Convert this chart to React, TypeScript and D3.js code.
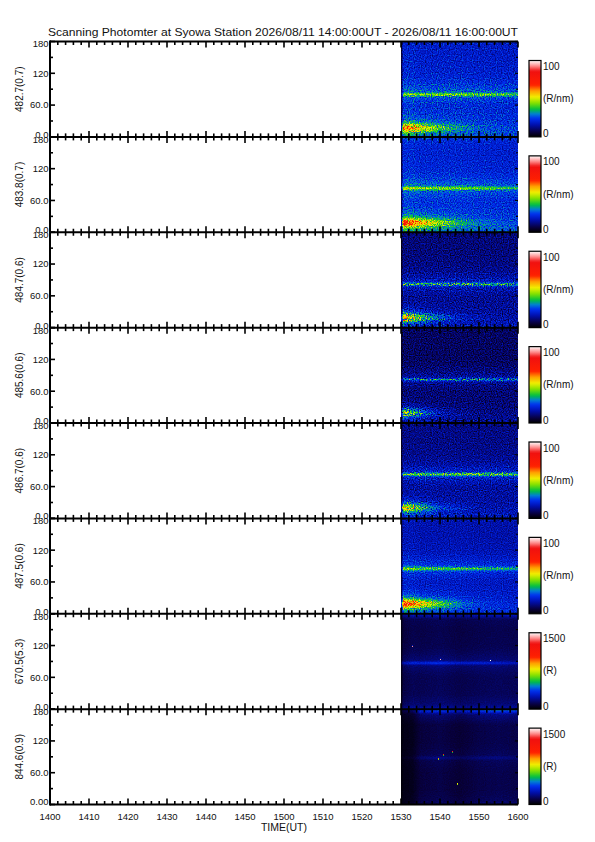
import React, { useMemo } from "react";
import * as d3 from "d3";

// ---------- labels / ticks ----------
const titleText =
  "Scanning Photomter at Syowa Station 2026/08/11 14:00:00UT - 2026/08/11 16:00:00UT";
const panelLabels = [
  "482.7(0.7)",
  "483.8(0.7)",
  "484.7(0.6)",
  "485.6(0.6)",
  "486.7(0.6)",
  "487.5(0.6)",
  "670.5(5.3)",
  "844.6(0.9)",
];
const scaleMax = [100, 100, 100, 100, 100, 100, 1500, 1500];
const scaleUnits = ["(R/nm)", "(R/nm)", "(R/nm)", "(R/nm)", "(R/nm)", "(R/nm)", "(R)", "(R)"];
const xTickMinutes = [0, 10, 20, 30, 40, 50, 60, 70, 80, 90, 100, 110, 120];
const xTickLabels = ["1400", "1410", "1420", "1430", "1440", "1450", "1500", "1510", "1520", "1530", "1540", "1550", "1600"];
const yTickValues = [0, 60, 120, 180];
const yTickLabels = ["0.0", "60.0", "120", "180"];
const yTickLabelsLast = ["0.00", "60.0", "120", "180"];
const xAxisTitle = "TIME(UT)";

// ---------- data (minutes after 14:00 UT, elevation deg) ----------
const dataStart = 90; // 15:30 UT
const dataEnd = 120; // 16:00 UT

// background level vs elevation
const bgElev = [0, 10, 30, 60, 90, 120, 150, 170, 180];
const bgLevel = [
  [26, 25, 23, 21, 23, 20, 19, 19, 20],
  [28, 27, 24, 22, 24, 21, 20, 21, 25],
  [17, 16, 14, 13, 14, 12, 11, 11, 12],
  [14, 13, 11, 10, 11, 9, 9, 9, 10],
  [18, 17, 15, 14, 15, 13, 12, 12, 13],
  [23, 22, 20, 18, 20, 17, 16, 16, 18],
  [230, 160, 125, 120, 135, 115, 110, 125, 290],
  [150, 120, 105, 105, 115, 105, 105, 170, 450],
];

// thin emission band near 80-88 deg
const midElev = [80, 83, 82, 82, 83, 85, 87, 88];
const midTimes = [90, 100, 110, 120];
const midAmp = [
  [17, 18, 18, 16],
  [20, 18, 16, 13],
  [18, 18, 18, 16],
  [14, 15, 15, 14],
  [21, 22, 22, 20],
  [20, 18, 16, 14],
  [140, 160, 130, 90],
  [50, 60, 50, 40],
];

// low-elevation band that fades after 15:30
const lowElev = [17, 18, 19, 19, 20, 19, 5, 5];
const lowTimes = [90, 92, 94, 96, 98, 100, 103, 106, 110, 115, 120];
const lowAmp = [
  [28, 27, 24, 20, 16, 12, 8, 5, 2, 1, 0],
  [35, 31, 27, 23, 19, 15, 10, 6, 3, 1, 0],
  [36, 29, 22, 16, 12, 8, 5, 2, 1, 0, 0],
  [28, 22, 16, 11, 7, 4, 2, 1, 0, 0, 0],
  [32, 26, 20, 14, 10, 6, 4, 2, 0, 0, 0],
  [40, 35, 30, 25, 20, 15, 10, 5, 2, 1, 0],
  [0, 0, 0, 0, 0, 0, 0, 0, 0, 0, 0],
  [0, 0, 0, 0, 0, 0, 0, 0, 0, 0, 0],
];

// per-time brightness factor (vertical striping / first dark column)
const modTimes = [90, 90.6, 93, 95, 100, 105, 110, 115, 120];
const timeMod = [
  [0.1, 1.05, 1.05, 1.0, 1.0, 1.0, 0.98, 0.97, 0.95],
  [0.1, 1.05, 1.05, 1.0, 1.0, 1.0, 0.98, 0.97, 0.95],
  [0.1, 1.0, 1.0, 1.0, 1.0, 1.0, 1.0, 1.0, 1.0],
  [0.1, 1.0, 1.0, 1.0, 1.0, 1.0, 1.0, 1.0, 1.0],
  [0.1, 1.0, 1.0, 1.0, 1.0, 1.0, 1.0, 1.0, 1.0],
  [0.1, 1.05, 1.05, 1.0, 1.0, 1.0, 0.98, 0.97, 0.95],
  [0.1, 0.8, 1.0, 0.95, 1.05, 0.9, 1.0, 1.05, 1.0],
  [0.1, 0.3, 0.4, 0.85, 1.0, 0.75, 1.0, 1.1, 1.0],
];

// isolated bright pixels [panel, minute, elevation]
const spots = [
  [7, 100.8, 93],
  [7, 103.3, 99],
  [7, 99.7, 86],
  [7, 104.5, 39],
  [6, 93, 119],
  [6, 100, 94],
  [6, 113, 92],
];

// colour table (fraction of scale -> colour)
const cmapStops = [0, 0.06, 0.16, 0.24, 0.3, 0.36, 0.44, 0.52, 0.6, 0.68, 0.86, 0.93, 1];
const cmapColors = [
  "#000000",
  "#08003c",
  "#0010b0",
  "#0030f0",
  "#0080d0",
  "#00c040",
  "#80e000",
  "#f0f000",
  "#ffa000",
  "#ff2000",
  "#f01010",
  "#ff9090",
  "#ffffff",
];

// ---------- layout / style ----------
const W = 595;
const H = 842;
const PLOT_L = 50;
const PLOT_R = 518;
const TOP = 41.5;
const BOTTOM = 804.5;
const NP = panelLabels.length;
const PH = (BOTTOM - TOP) / NP;
const FONT = "'Liberation Sans', Arial, sans-serif";
const noiseMul = [1.5, 1.3, 2.3, 2.6, 2.1, 1.3, 0.5, 0.5];
const noiseAdd = [0.05, 0.04, 0.06, 0.06, 0.05, 0.04, 0.01, 0.01];

const cmap = d3
  .scaleLinear<string>()
  .domain(cmapStops)
  .range(cmapColors)
  .interpolate(d3.interpolateRgb)
  .clamp(true);

const x = d3.scaleLinear().domain([0, 120]).range([PLOT_L, PLOT_R]);

function makeImage(p: number, top: number): string {
  const x0 = x(dataStart);
  const x1 = x(dataEnd);
  const w = Math.round(x1 - x0);
  const h = Math.round(PH);
  const y = d3.scaleLinear().domain([0, 180]).range([top + PH, top]);
  const bgS = d3.scaleLinear().domain(bgElev).range(bgLevel[p]).clamp(true);
  const midS = d3.scaleLinear().domain(midTimes).range(midAmp[p]).clamp(true);
  const lowS = d3.scaleLinear().domain(lowTimes).range(lowAmp[p]).clamp(true);
  const modS = d3.scaleLinear().domain(modTimes).range(timeMod[p]).clamp(true);
  const vS = d3.scaleLinear().domain([0, scaleMax[p]]).range([0, 255]).clamp(true);
  const cv = document.createElement("canvas");
  cv.width = w;
  cv.height = h;
  const ctx = cv.getContext("2d")!;
  const img = ctx.createImageData(w, h);
  const me = midElev[p];
  const le = lowElev[p];
  for (let i = 0; i < w; i++) {
    const t = x.invert(x0 + ((i + 0.5) * (x1 - x0)) / w);
    const mA = midS(t);
    const lA = lowS(t);
    const tm = modS(t);
    for (let j = 0; j < h; j++) {
      const e = y.invert(top + ((j + 0.5) * PH) / h);
      const dm = e - me;
      const dl = e - le;
      const m =
        mA * (Math.exp(-0.5 * (dm / 2.2) ** 2) + 0.22 * Math.exp(-0.5 * (dm / 12) ** 2));
      const l =
        lA * (Math.exp(-0.5 * (dl / 5.5) ** 2) + 0.3 * Math.exp(-0.5 * (dl / 14) ** 2));
      const v = (bgS(e) + m + l) * tm;
      const g = Math.round(vS(v));
      const k = (j * w + i) * 4;
      img.data[k] = g;
      img.data[k + 1] = g;
      img.data[k + 2] = g;
      img.data[k + 3] = 255;
    }
  }
  spots
    .filter((s) => s[0] === p)
    .forEach((s) => {
      const i = Math.floor(((x(s[1]) - x0) * w) / (x1 - x0));
      const j = Math.floor(((y(s[2]) - top) * h) / PH);
      if (i >= 0 && i < w && j >= 0 && j < h) {
        const k = (j * w + i) * 4;
        img.data[k] = img.data[k + 1] = img.data[k + 2] = 255;
      }
    });
  ctx.putImageData(img, 0, 0);
  return cv.toDataURL();
}

export default function App() {
  const panels = panelLabels.map((label, p) => {
    const top = TOP + p * PH;
    const bottom = top + PH;
    const y = d3.scaleLinear().domain([0, 180]).range([bottom, top]);
    return { label, p, top, bottom, y };
  });

  const images = useMemo(() => panels.map((pn) => makeImage(pn.p, pn.top)), []);

  const samples = d3.range(101).map((i) => d3.rgb(cmap(i / 100)));
  const tbl = (ch: "r" | "g" | "b") => samples.map((c) => (c[ch] / 255).toFixed(4)).join(" ");
  const gradStops = d3.range(41).map((i) => i / 40);

  const x0 = x(dataStart);
  const x1 = x(dataEnd);
  const minorX = d3.range(0, 121, 2);
  const boundaries = d3.range(NP + 1).map((k) => TOP + k * PH);
  const minorY = [30, 90, 150];

  return (
    <svg
      width={W}
      height={H}
      viewBox={`0 0 ${W} ${H}`}
      style={{ position: "absolute", left: 0, top: 0, background: "#fff" }}
    >
      <defs>
        {panels.map((pn) => (
          <filter
            key={pn.p}
            id={`speck${pn.p}`}
            x={x0}
            y={pn.top}
            width={x1 - x0}
            height={PH}
            filterUnits="userSpaceOnUse"
            colorInterpolationFilters="sRGB"
          >
            <feTurbulence type="fractalNoise" baseFrequency="0.83" numOctaves={1} seed={pn.p * 7 + 3} result="n" />
            <feColorMatrix
              in="n"
              type="matrix"
              values="1 0 0 0 0  1 0 0 0 0  1 0 0 0 0  0 0 0 0 1"
              result="g"
            />
            <feComposite
              in="SourceGraphic"
              in2="g"
              operator="arithmetic"
              k1={noiseMul[pn.p]}
              k2={1 - noiseMul[pn.p] / 2}
              k3={noiseAdd[pn.p]}
              k4={-noiseAdd[pn.p] / 2}
              result="m"
            />
            <feComponentTransfer in="m">
              <feFuncR type="table" tableValues={tbl("r")} />
              <feFuncG type="table" tableValues={tbl("g")} />
              <feFuncB type="table" tableValues={tbl("b")} />
            </feComponentTransfer>
          </filter>
        ))}
        <linearGradient id="cbar" x1="0" y1="1" x2="0" y2="0">
          {gradStops.map((f) => (
            <stop key={f} offset={f} stopColor={cmap(f)} />
          ))}
        </linearGradient>
      </defs>

      {/* title */}
      <text
        x={48}
        y={36}
        fontFamily={FONT}
        fontSize={11}
        textLength={470}
        lengthAdjust="spacingAndGlyphs"
        fill="#111"
      >
        {titleText}
      </text>

      {/* images */}
      {panels.map((pn) => (
        <image
          key={pn.p}
          href={images[pn.p]}
          x={x0}
          y={pn.top}
          width={x1 - x0}
          height={PH}
          preserveAspectRatio="none"
          filter={`url(#speck${pn.p})`}
        />
      ))}

      {/* colour bars */}
      {panels.map((pn) => {
        const cbTop = pn.top + 19;
        const cbBot = pn.bottom;
        return (
          <g key={pn.p} fontFamily={FONT} fill="#111">
            <rect x={529} y={cbTop} width={12} height={cbBot - cbTop} fill="url(#cbar)" stroke="#000" strokeWidth={1.2} />
            <text x={543} y={cbTop + 9.5} fontSize={10}>
              {String(scaleMax[pn.p])}
            </text>
            <text x={543} y={(cbTop + cbBot) / 2 + 3.5} fontSize={10}>
              {scaleUnits[pn.p]}
            </text>
            <text x={543} y={cbBot + 0.5} fontSize={10}>
              0
            </text>
          </g>
        );
      })}

      {/* axes */}
      <g stroke="#000" fill="none">
        {boundaries.map((b, k) => (
          <g key={k}>
            <line x1={PLOT_L} x2={PLOT_R} y1={b} y2={b} strokeWidth={2} />
            {minorX.map((m) => {
              const major = m % 10 === 0;
              const len = major ? 6 : 3.5;
              const up = k > 0 ? b - len : b;
              const down = k < NP ? b + len : b;
              return (
                <line key={m} x1={x(m)} x2={x(m)} y1={up} y2={down} strokeWidth={1.6} />
              );
            })}
          </g>
        ))}
        <line x1={PLOT_L} x2={PLOT_L} y1={TOP - 1} y2={BOTTOM + 1} strokeWidth={2} />
        {panels.map((pn) => (
          <g key={pn.p}>
            {yTickValues.map((v) => (
              <g key={v}>
                <line x1={PLOT_L} x2={PLOT_L + 5} y1={pn.y(v)} y2={pn.y(v)} strokeWidth={1.6} />
                <line x1={PLOT_R - 3} x2={PLOT_R} y1={pn.y(v)} y2={pn.y(v)} strokeWidth={1.2} />
              </g>
            ))}
            {minorY.map((v) => (
              <g key={v}>
                <line x1={PLOT_L} x2={PLOT_L + 3} y1={pn.y(v)} y2={pn.y(v)} strokeWidth={1.6} />
                <line x1={PLOT_R - 2} x2={PLOT_R} y1={pn.y(v)} y2={pn.y(v)} strokeWidth={1.2} />
              </g>
            ))}
          </g>
        ))}
      </g>

      {/* y labels */}
      {panels.map((pn) => {
        const labels = pn.p === NP - 1 ? yTickLabelsLast : yTickLabels;
        return (
          <g key={pn.p} fontFamily={FONT} fill="#111">
            {yTickValues.map((v, i) => {
              const off = v === 180 ? 2.5 : v === 0 ? -2.5 : 0;
              return (
                <text key={v} x={48.5} y={pn.y(v) + off + 3.4} fontSize={9.5} textAnchor="end">
                  {labels[i]}
                </text>
              );
            })}
            <text
              transform={`translate(23,${(pn.top + pn.bottom) / 2}) rotate(-90)`}
              fontSize={10}
              textAnchor="middle"
            >
              {pn.label}
            </text>
          </g>
        );
      })}

      {/* x labels */}
      <g fontFamily={FONT} fill="#111">
        {xTickMinutes.map((m, i) => (
          <text key={m} x={x(m)} y={820} fontSize={9.5} textAnchor="middle">
            {xTickLabels[i]}
          </text>
        ))}
        <text x={(PLOT_L + PLOT_R) / 2} y={831} fontSize={10.5} textAnchor="middle">
          {xAxisTitle}
        </text>
      </g>
    </svg>
  );
}
